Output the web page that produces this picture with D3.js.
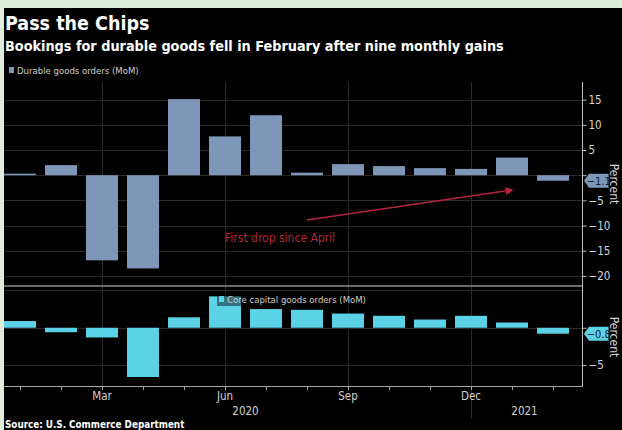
<!DOCTYPE html>
<html>
<head>
<meta charset="utf-8">
<script src="https://cdn.jsdelivr.net/npm/d3@7"></script>
<style>
  html, body { margin: 0; padding: 0; background: #e1eddb; }
  svg { display: block; }
</style>
</head>
<body>
<svg id="chart" width="622" height="430"></svg>
<script>
// Monthly % change, Jan 2020 – Feb 2021
const months = ["2020-01","2020-02","2020-03","2020-04","2020-05","2020-06","2020-07",
                "2020-08","2020-09","2020-10","2020-11","2020-12","2021-01","2021-02"];
const durableGoods = [0.3, 2.0, -16.9, -18.5, 15.1, 7.7, 11.9, 0.5, 2.2, 1.8, 1.4, 1.25, 3.5, -1.1];
const coreCapital  = [0.9, -0.6, -1.3, -6.6, 1.4, 4.2, 2.5, 2.4, 1.9, 1.6, 1.1, 1.6, 0.7, -0.8];

const quarterLabels = [["2020-03","Mar"],["2020-06","Jun"],["2020-09","Sep"],["2020-12","Dec"]];
const yearLabels = [["2020","2020-01","2020-12"],["2021","2021-01","2021-02"]];
const topTicks = [15, 10, 5, 0, -5, -10, -15, -20];
const bottomTicks = [0, -5];
const bottomGrid = [5, 0, -5];

const FONT = "'DejaVu Sans Condensed', 'DejaVu Sans', sans-serif";
const BAR_TOP = "#7e96b8";
const BAR_BOTTOM = "#5cd2e7";
const RED = "#b8243c";

const svg = d3.select("#chart");
svg.append("rect").attr("x", 4).attr("y", 8).attr("width", 618).attr("height", 422).attr("fill", "#000");

const plotLeft = 4, plotRight = 582;

const x = d3.scaleBand().domain(months).range([-0.5, 573.5]).paddingInner(0.22).paddingOuter(0.11);
const cx = m => x(m) + x.bandwidth() / 2;

const yTop = d3.scaleLinear().domain([-21.8, 18.5]).range([285, 82]);
const yBot = d3.scaleLinear().domain([-7.8, 5]).range([386, 290.4]);

// Titles
svg.append("text").attr("x", 5).attr("y", 30).text("Pass the Chips")
  .attr("fill", "#fff").attr("font-family", FONT).attr("font-weight", "bold").attr("font-size", 19.5);
svg.append("text").attr("x", 5).attr("y", 51).text("Bookings for durable goods fell in February after nine monthly gains")
  .attr("fill", "#fff").attr("font-family", FONT).attr("font-weight", "bold").attr("font-size", 14.3);

// Gridlines
const grid = svg.append("g").attr("stroke", "#2a2a2a").attr("stroke-width", 1);
topTicks.forEach(t => grid.append("line").attr("x1", plotLeft).attr("x2", plotRight)
  .attr("y1", Math.round(yTop(t)) + 0.5).attr("y2", Math.round(yTop(t)) + 0.5));
bottomGrid.forEach(t => grid.append("line").attr("x1", plotLeft).attr("x2", plotRight)
  .attr("y1", Math.round(yBot(t)) + 0.5).attr("y2", Math.round(yBot(t)) + 0.5));
quarterLabels.forEach(([m]) => grid.append("line")
  .attr("x1", Math.round(cx(m)) + 0.5).attr("x2", Math.round(cx(m)) + 0.5)
  .attr("y1", 82).attr("y2", m === "2020-12" ? 418 : 386));

// Panel separator
svg.append("line").attr("x1", plotLeft).attr("x2", plotRight).attr("y1", 286).attr("y2", 286)
  .attr("stroke", "#6a6a6a").attr("stroke-width", 2);

// Bars
const bar = (g, data, y, color) => g.selectAll("rect").data(months).join("rect")
  .attr("x", m => x(m)).attr("width", x.bandwidth())
  .attr("y", (m, i) => y(Math.max(0, data[i])))
  .attr("height", (m, i) => Math.max(1, Math.abs(y(data[i]) - y(0))))
  .attr("fill", color);
bar(svg.append("g"), durableGoods, yTop, BAR_TOP);
bar(svg.append("g"), coreCapital, yBot, BAR_BOTTOM);

// Legends
function legend(lx, ly, label, color, bg) {
  const g = svg.append("g");
  const t = g.append("text").attr("x", lx + 8).attr("y", ly + 3.5).text(label)
    .attr("fill", "#cfcfcf").attr("font-family", FONT).attr("font-size", 9.5);
  if (bg) {
    const w = t.node().getComputedTextLength();
    g.insert("rect", "text").attr("x", lx - 2).attr("y", ly - 7).attr("width", w + 12).attr("height", 14)
      .attr("fill", "rgba(0,0,0,0.45)");
  }
  g.append("rect").attr("x", lx).attr("y", ly - 3).attr("width", 5).attr("height", 6).attr("fill", color);
}
legend(9, 70, "Durable goods orders (MoM)", BAR_TOP, false);
legend(219, 299, "Core capital goods orders (MoM)", BAR_BOTTOM, true);

// Right axis (the zero label sits under the last-value tag)
svg.append("line").attr("x1", plotRight + 0.5).attr("x2", plotRight + 0.5).attr("y1", 82).attr("y2", 386)
  .attr("stroke", "#bdbdbd").attr("stroke-width", 1);
function rightAxis(y, ticks) {
  const g = svg.append("g").attr("transform", `translate(${plotRight + 0.5},0)`);
  const ax = d3.axisRight(y).tickValues(ticks).tickSize(4).tickPadding(2)
    .tickFormat(d => d === 0 ? "" : d3.format("d")(d));
  g.call(ax);
  g.select(".domain").remove();
  g.selectAll(".tick line").attr("stroke", "#bdbdbd");
  g.selectAll(".tick text").attr("fill", "#d4d4d4").attr("font-family", FONT).attr("font-size", 11.5);
}
rightAxis(yTop, topTicks);
rightAxis(yBot, bottomTicks);

// "Percent" unit labels, read top to bottom along the right edge
[[184, "Percent"], [337, "Percent"]].forEach(([cy, s]) => svg.append("text")
  .attr("transform", `translate(609.5,${cy}) rotate(90)`).attr("text-anchor", "middle")
  .attr("fill", "#d4d4d4").attr("font-family", FONT).attr("font-size", 12).text(s));

// Last-value tags
function tag(y, v, color) {
  const yy = y(v), x0 = 584, x1 = 608.5, h = 14;
  svg.append("path")
    .attr("d", `M${x0},${yy} L${x0 + 5},${yy - h / 2} L${x1},${yy - h / 2} L${x1},${yy + h / 2} L${x0 + 5},${yy + h / 2} Z`)
    .attr("fill", color);
  svg.append("text").attr("x", (x0 + 4 + x1) / 2 + 0.5).attr("y", yy + 4.5).attr("text-anchor", "middle")
    .attr("fill", "#0c1a33").attr("font-family", FONT).attr("font-size", 11).text(d3.format(".1f")(v));
}
tag(yTop, durableGoods[durableGoods.length - 1], BAR_TOP);
tag(yBot, coreCapital[coreCapital.length - 1], BAR_BOTTOM);

// Bottom axis
const bx = svg.append("g").attr("transform", "translate(0,386)");
bx.append("line").attr("x1", plotLeft).attr("x2", plotRight + 1).attr("y1", 0.5).attr("y2", 0.5)
  .attr("stroke", "#a8a8a8");
bx.selectAll("line.tk").data(months).join("line").attr("class", "tk")
  .attr("x1", m => Math.round(cx(m)) + 0.5).attr("x2", m => Math.round(cx(m)) + 0.5)
  .attr("y1", 0).attr("y2", 4).attr("stroke", "#a8a8a8");
bx.selectAll("text.q").data(quarterLabels).join("text").attr("class", "q")
  .attr("x", d => cx(d[0])).attr("y", 14).attr("text-anchor", "middle")
  .attr("fill", "#d0d0d0").attr("font-family", FONT).attr("font-size", 11.5).text(d => d[1]);
bx.selectAll("text.yr").data(yearLabels).join("text").attr("class", "yr")
  .attr("x", d => (x(d[1]) + (d[0] === "2021" ? cx(d[2]) : x(d[2]) + x.bandwidth())) / 2)
  .attr("y", 29).attr("text-anchor", "middle")
  .attr("fill", "#d0d0d0").attr("font-family", FONT).attr("font-size", 11.5).text(d => d[0]);

// Annotation
svg.append("defs").append("marker").attr("id", "ah").attr("viewBox", "0 0 10 10")
  .attr("refX", 8).attr("refY", 5).attr("markerWidth", 5).attr("markerHeight", 5).attr("orient", "auto")
  .append("path").attr("d", "M0,0 L10,5 L0,10 Z").attr("fill", RED);
svg.append("line").attr("x1", 307).attr("y1", 220).attr("x2", 512).attr("y2", 190)
  .attr("stroke", RED).attr("stroke-width", 1.6).attr("marker-end", "url(#ah)");
svg.append("text").attr("x", 225).attr("y", 242).text("First drop since April")
  .attr("fill", RED).attr("font-family", FONT).attr("font-size", 12);

// Source
svg.append("text").attr("x", 5).attr("y", 428).text("Source: U.S. Commerce Department")
  .attr("fill", "#fff").attr("font-family", FONT).attr("font-weight", "bold").attr("font-size", 9.8);
</script>
</body>
</html>
